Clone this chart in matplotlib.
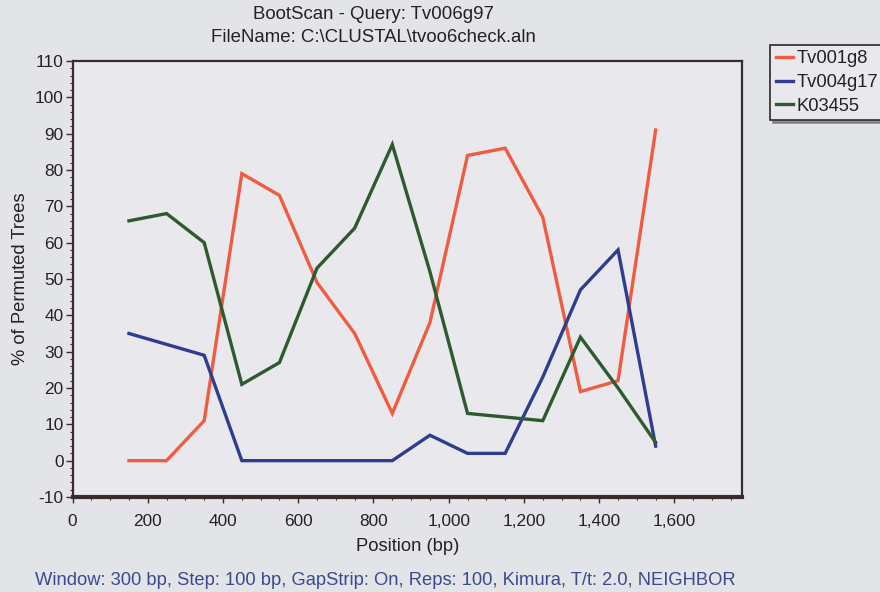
import matplotlib.pyplot as plt
from matplotlib.ticker import MultipleLocator, FuncFormatter

plt.rcParams['font.family'] = ['Liberation Sans', 'DejaVu Sans']

# window midpoints along the alignment (bp)
position = [150, 250, 350, 450, 550, 650, 750, 850, 950, 1050, 1150, 1250, 1350, 1450, 1550]

# % of permuted trees supporting each reference sequence
tv001g8 = [0, 0, 11, 79, 73, 49, 35, 13, 38, 84, 86, 67, 19, 22, 91]
tv004g17 = [35, 32, 29, 0, 0, 0, 0, 0, 7, 2, 2, 23, 47, 58, 4]
k03455 = [66, 68, 60, 21, 27, 53, 64, 87, 52, 13, 12, 11, 34, 20, 5]

series_names = ["Tv001g8", "Tv004g17", "K03455"]
series_colors = ["#ef5c40", "#2f3c8f", "#2d5a2f"]

fig = plt.figure(figsize=(8.8, 5.92), dpi=100, facecolor="#e3e4e8")
ax = fig.add_axes([0.0824, 0.1605, 0.761, 0.7365], facecolor="#e9e9ed")

for vals, name, col in zip([tv001g8, tv004g17, k03455], series_names, series_colors):
    ax.plot(position, vals, color=col, lw=2.4, label=name, solid_joinstyle="miter")

ax.set_xlim(0, 1780)
ax.set_ylim(-10, 110)
ax.xaxis.set_major_locator(MultipleLocator(200))
ax.xaxis.set_minor_locator(MultipleLocator(50))
ax.yaxis.set_major_locator(MultipleLocator(10))
ax.yaxis.set_minor_locator(MultipleLocator(2))
ax.xaxis.set_major_formatter(FuncFormatter(lambda v, p: f"{int(v):,}" if v <= 1600 else ""))
ax.yaxis.set_major_formatter(FuncFormatter(lambda v, p: f"{int(v)}"))

ax.tick_params(axis="both", which="major", width=1, color="#3a2c2c",
               labelsize=12.4, labelcolor="#222222")
ax.tick_params(axis="y", which="major", length=5, pad=1.5)
ax.tick_params(axis="x", which="major", length=4.5, pad=7.5)
ax.tick_params(axis="both", which="minor", length=2.2, width=0.8, color="#3a2c2c")

for side, sp in ax.spines.items():
    sp.set_color("#3a2a2c")
    sp.set_linewidth(1.6)
ax.spines["bottom"].set_linewidth(3)

ax.set_xlabel("Position (bp)", fontsize=13.2, color="#222222", labelpad=7)
ax.set_ylabel("% of Permuted Trees", fontsize=13.2, color="#222222", labelpad=4)

fig.text(0.424, 0.968, "BootScan - Query: Tv006g97", ha="center", va="baseline",
         fontsize=13.4, color="#222222")
fig.text(0.424, 0.929, "FileName: C:\\CLUSTAL\\tvoo6check.aln", ha="center", va="baseline",
         fontsize=13.4, color="#222222")

fig.text(0.040, 0.0125, "Window: 300 bp, Step: 100 bp, GapStrip: On, Reps: 100, Kimura, T/t: 2.0, NEIGHBOR",
         ha="left", va="baseline", fontsize=13.2, color="#3b4a8c")

leg = ax.legend(loc="upper left", bbox_to_anchor=(0.875, 0.924), bbox_transform=fig.transFigure,
                frameon=True, fancybox=False, shadow=True, handlelength=0.95, handletextpad=0.2,
                borderpad=0.3, labelspacing=0.36, fontsize=13.2, borderaxespad=0)
leg.get_frame().set_edgecolor("#2a2a2a")
leg.get_frame().set_facecolor("#e9e9ed")
leg.get_frame().set_linewidth(1.2)
for t in leg.get_texts():
    t.set_color("#222222")

fig.savefig("out.png", dpi=100, facecolor=fig.get_facecolor())
